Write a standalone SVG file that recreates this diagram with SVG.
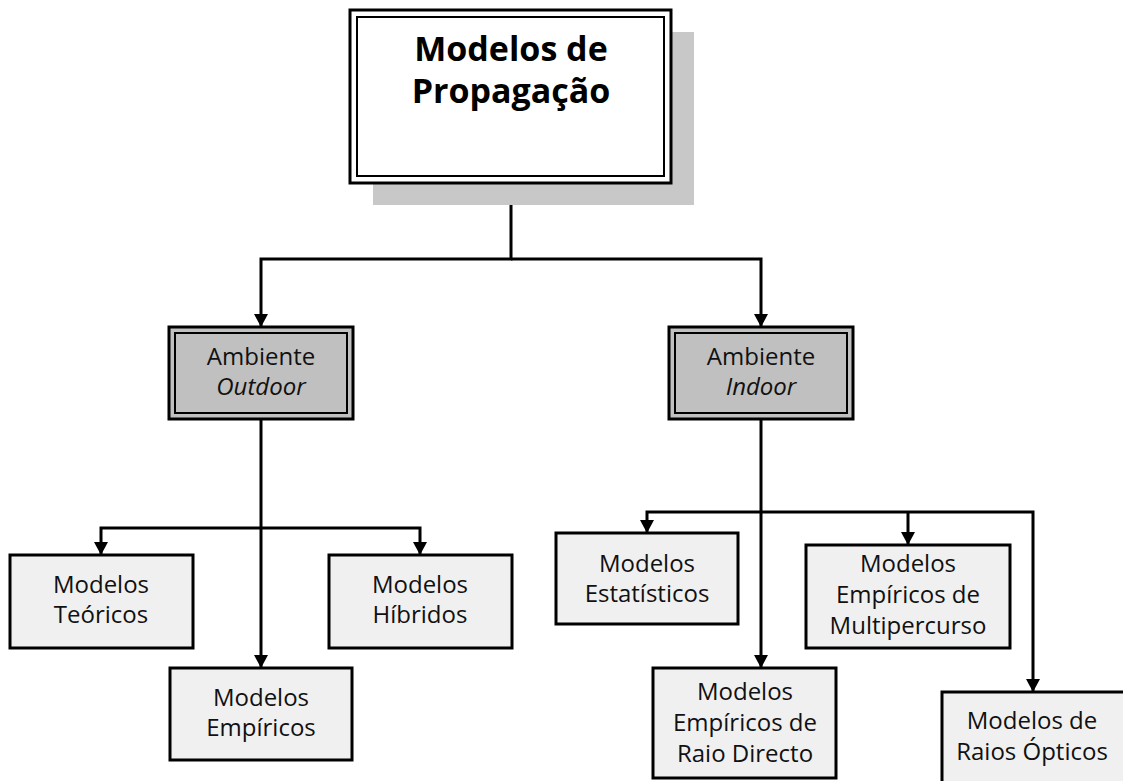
<svg xmlns="http://www.w3.org/2000/svg" width="1123" height="781" viewBox="0 0 1123 781">
<defs>
<style>
.t{font-family:"Open Sans","DejaVu Sans",sans-serif;font-size:24px;fill:#111;text-anchor:middle}
.h{font-family:"Open Sans","DejaVu Sans",sans-serif;font-size:34px;font-weight:bold;fill:#000;text-anchor:middle}
.leaf{fill:#f0f0f0;stroke:#000;stroke-width:3}
.amb{fill:#c0c0c0;stroke:#000;stroke-width:3}
.ambi{fill:none;stroke:#000;stroke-width:2}
.c{fill:none;stroke:#000;stroke-width:3}
</style>
</defs>
<rect width="1123" height="781" fill="#fff"/>

<g id="connectors">
<path class="c" d="M511 183 V259 H261 V326"/>
<path class="c" d="M511 259 H761 V326"/>
<path class="c" d="M261 419 V667"/>
<path class="c" d="M101 554 V528 H420 V554"/>
<path class="c" d="M761 419 V667"/>
<path class="c" d="M647 532 V512 H1033 V691"/>
<path class="c" d="M908 512 V544"/>
<g fill="#000">
<path d="M254 314 H268 L261 327 Z"/>
<path d="M754 314 H768 L761 327 Z"/>
<path d="M254 655 H268 L261 668 Z"/>
<path d="M94 542 H108 L101 555 Z"/>
<path d="M413 542 H427 L420 555 Z"/>
<path d="M754 655 H768 L761 668 Z"/>
<path d="M640 520 H654 L647 533 Z"/>
<path d="M901 532 H915 L908 545 Z"/>
<path d="M1026 679 H1040 L1033 692 Z"/>
</g>
</g>

<g id="root">
<rect x="373" y="32" width="321" height="173" fill="#c8c8c8"/>
<rect x="350" y="10" width="321" height="173" fill="#fff" stroke="#000" stroke-width="3"/>
<rect x="357" y="17" width="307" height="159" fill="none" stroke="#000" stroke-width="2"/>
<text class="h" x="511" y="61">Modelos de</text>
<text class="h" x="511" y="103">Propagação</text>
</g>

<g id="outdoor">
<rect class="amb" x="169" y="327" width="184" height="92"/>
<rect class="ambi" x="175" y="333" width="172" height="80"/>
<text class="t" x="261" y="365">Ambiente</text>
<text class="t" x="261" y="395" font-style="italic">Outdoor</text>
</g>

<g id="indoor">
<rect class="amb" x="669" y="327" width="184" height="92"/>
<rect class="ambi" x="675" y="333" width="172" height="80"/>
<text class="t" x="761" y="365">Ambiente</text>
<text class="t" x="761" y="395" font-style="italic">Indoor</text>
</g>

<g id="teoricos">
<rect class="leaf" x="10" y="555" width="183" height="93"/>
<text class="t" x="101" y="593">Modelos</text>
<text class="t" x="101" y="623">Teóricos</text>
</g>

<g id="hibridos">
<rect class="leaf" x="329" y="555" width="183" height="93"/>
<text class="t" x="420" y="593">Modelos</text>
<text class="t" x="420" y="623">Híbridos</text>
</g>

<g id="empiricos">
<rect class="leaf" x="170" y="668" width="182" height="92"/>
<text class="t" x="261" y="706">Modelos</text>
<text class="t" x="261" y="736">Empíricos</text>
</g>

<g id="estatisticos">
<rect class="leaf" x="556" y="533" width="182" height="91"/>
<text class="t" x="647" y="572">Modelos</text>
<text class="t" x="647" y="602">Estatísticos</text>
</g>

<g id="multipercurso">
<rect class="leaf" x="806" y="545" width="204" height="103"/>
<text class="t" x="908" y="572">Modelos</text>
<text class="t" x="908" y="603">Empíricos de</text>
<text class="t" x="908" y="634">Multipercurso</text>
</g>

<g id="raiodirecto">
<rect class="leaf" x="653" y="668" width="183" height="110"/>
<text class="t" x="745" y="700">Modelos</text>
<text class="t" x="745" y="731">Empíricos de</text>
<text class="t" x="745" y="762">Raio Directo</text>
</g>

<g id="opticos">
<rect class="leaf" x="942" y="692" width="190" height="100"/>
<text class="t" x="1032" y="729">Modelos de</text>
<text class="t" x="1032" y="760">Raios Ópticos</text>
</g>
</svg>
